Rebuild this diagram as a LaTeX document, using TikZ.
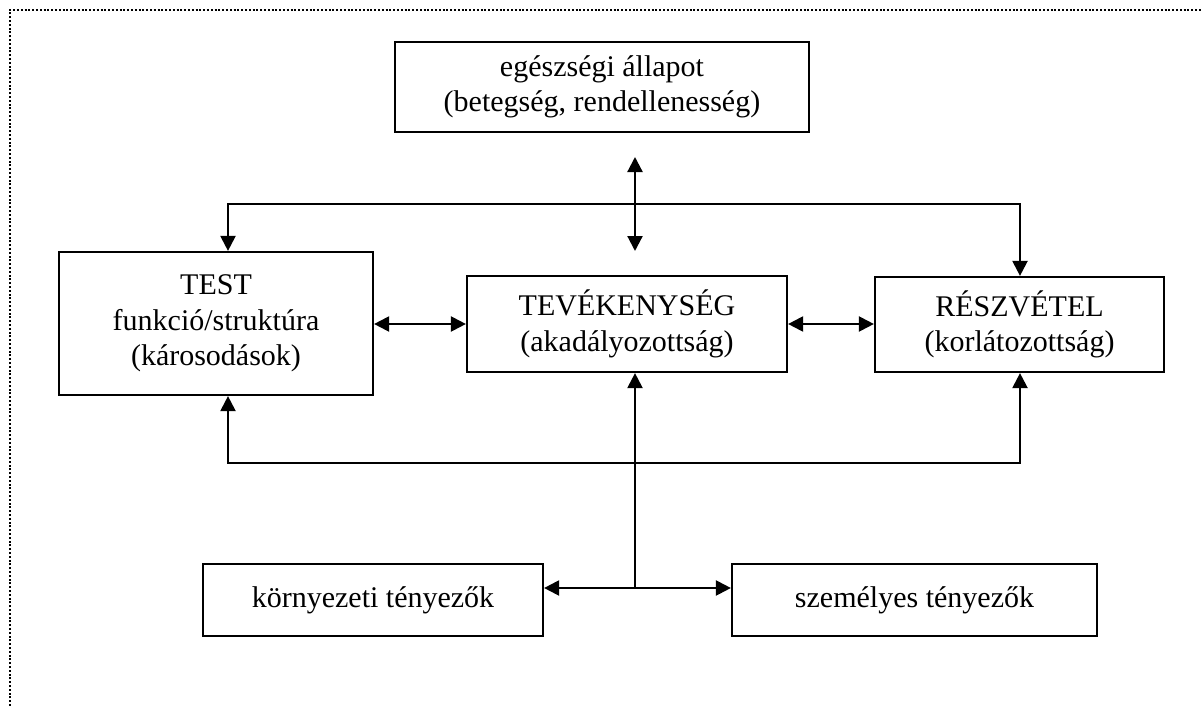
\documentclass[tikz,border=0pt]{standalone}
\usepackage{fontspec}
\setmainfont{Liberation Serif}
\usetikzlibrary{arrows.meta}
\begin{document}
\begin{tikzpicture}[x=1pt,y=-1pt,
  box/.style={draw,line width=2.2pt,inner sep=0pt,align=center,
    font=\fontsize{30}{35.5}\selectfont},
  link/.style={line width=2.2pt},
  tip/.tip={Triangle[length=15pt,width=15pt]},
  onearrow/.style={link,-tip},
  twoarrow/.style={link,tip-tip},
  frame/.style={line width=2.2pt,dash pattern=on 2pt off 1.8pt}]
\useasboundingbox (0,0) rectangle (1202,706);
% open dotted frame along the top and left edges
\draw[frame] (10,706) -- (10,10) -- (1202,10);

% boxes
\node[box,minimum width=414pt,minimum height=90pt] (health) at (602,87)
  {egészségi állapot\\(betegség, rendellenesség)};
\node[box,minimum width=314pt,minimum height=143pt] (body) at (216,323.5)
  {TEST\\funkció/struktúra\\(károsodások)};
\node[box,minimum width=320pt,minimum height=96pt] (activity) at (627,324)
  {TEVÉKENYSÉG\\(akadályozottság)};
\node[box,minimum width=289pt,minimum height=95pt] (particip) at (1019.5,324.5)
  {RÉSZVÉTEL\\(korlátozottság)};
\node[box,minimum width=340pt,minimum height=72pt] (envir) at (373,600)
  {környezeti tényezők};
\node[box,minimum width=365pt,minimum height=72pt] (personal) at (914.5,600)
  {személyes tényezők};

% junction points
\coordinate (hup) at (635,157);
\coordinate (hdown) at (635,251);
\coordinate (tl) at (228,204);
\coordinate (tr) at (1020,204);
\coordinate (bl) at (228,463);
\coordinate (br) at (1020,463);
\coordinate (hub) at (635,588);

% connectors
\draw[twoarrow] (hup) -- (hdown);
\draw[twoarrow] (tl |- body.north) -- (tl) -- (tr) -- (tr |- particip.north);
\draw[twoarrow] (bl |- body.south) -- (bl) -- (br) -- (br |- particip.south);
\draw[twoarrow] (body.east |- activity.west) -- (activity.west);
\draw[twoarrow] (activity.east) -- (particip.west |- activity.east);
\draw[onearrow] (hub) -- (hub |- activity.south);
\draw[twoarrow] (envir.east |- hub) -- (personal.west |- hub);
\end{tikzpicture}
\end{document}
